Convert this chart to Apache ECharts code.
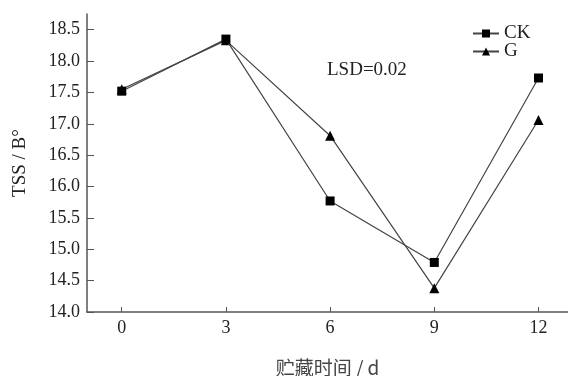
<!DOCTYPE html>
<html>
<head>
<meta charset="utf-8">
<script src="https://cdn.jsdelivr.net/npm/echarts@6/dist/echarts.min.js"></script>
<style>html,body{margin:0;padding:0;background:#fff}#c{width:568px;height:376px}</style>
</head>
<body>
<div id="c"></div>
<script>
const days = [0, 3, 6, 9, 12];
const ckValues = [17.52, 18.35, 15.77, 14.79, 17.73];
const gValues = [17.55, 18.33, 16.81, 14.38, 17.06];
const yTicks = [14.0, 14.5, 15.0, 15.5, 16.0, 16.5, 17.0, 17.5, 18.0, 18.5];
const seriesNames = ['CK', 'G'];
const lsdText = 'LSD=0.02';

const font = 'Liberation Serif';
const chart = echarts.init(document.getElementById('c'));
const pair = (vals) => days.map((d, i) => [d, vals[i]]);
chart.setOption({
  animation: false,
  backgroundColor: '#fff',
  grid: {left: 87, right: 0, top: 14, bottom: 64, containLabel: false, outerBoundsMode: 'none'},
  legend: {
    left: 467, top: 19, orient: 'vertical', itemGap: -1,
    itemWidth: 26, itemHeight: 10,
    textStyle: {fontFamily: font, fontSize: 19, color: '#222'},
    data: seriesNames
  },
  graphic: [{
    type: 'text', left: 327, top: 61,
    style: {text: lsdText, fontFamily: font, fontSize: 19, fill: '#222'}
  }],
  xAxis: {
    type: 'value', min: -1, max: 12.85,
    name: '贮藏时间 / d', nameLocation: 'middle', nameGap: 46,
    nameTextStyle: {fontFamily: 'Noto Sans CJK SC', fontSize: 19, color: '#444'},
    axisLine: {lineStyle: {color: '#555', width: 1.5}},
    axisTick: {inside: true, length: 5, customValues: days, lineStyle: {color: '#555'}},
    axisLabel: {customValues: days, margin: 7, fontFamily: font, fontSize: 18, color: '#222'},
    splitLine: {show: false}
  },
  yAxis: {
    type: 'value', min: 14, max: 18.75,
    name: 'TSS / B°', nameLocation: 'middle', nameGap: 57, nameRotate: 90,
    nameTextStyle: {fontFamily: font, fontSize: 19, color: '#222'},
    axisLine: {show: true, onZero: false, lineStyle: {color: '#555', width: 1.5}},
    axisTick: {inside: true, length: 7, customValues: yTicks, lineStyle: {color: '#555'}},
    axisLabel: {customValues: yTicks, margin: 7, fontFamily: font, fontSize: 18, color: '#222',
      formatter: v => v.toFixed(1)},
    splitLine: {show: false}
  },
  series: [
    {name: 'CK', type: 'line', data: pair(ckValues), symbol: 'rect', symbolSize: 9,
      itemStyle: {color: '#000'}, lineStyle: {color: '#444', width: 1.2}, z: 3},
    {name: 'G', type: 'line', data: pair(gValues), symbol: 'triangle', symbolSize: 10,
      itemStyle: {color: '#000'}, lineStyle: {color: '#444', width: 1.2}, z: 2}
  ]
});
</script>
</body>
</html>
